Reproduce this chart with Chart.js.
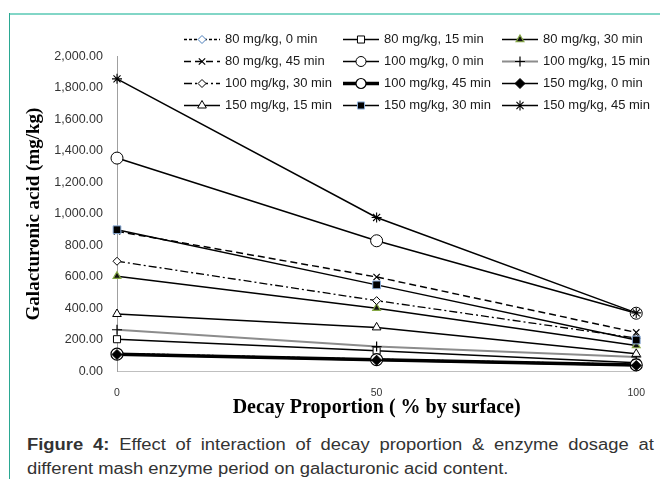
<!DOCTYPE html>
<html><head><meta charset="utf-8">
<script src="https://cdn.jsdelivr.net/npm/chart.js@4/dist/chart.umd.min.js"></script>
<style>
html,body{margin:0;padding:0;background:#fff;width:660px;height:479px;overflow:hidden;}
#wrap{position:absolute;left:0;top:0;width:660px;height:420px;}
#topline{position:absolute;left:9px;top:13px;width:651px;height:2px;background:#82d6c7;}
#leftline{position:absolute;left:9px;top:13px;width:1px;height:466px;background:#2aa892;}
#cap{position:absolute;left:27px;top:433px;width:545px;font-family:'Liberation Sans',Arial,sans-serif;font-size:16px;line-height:24px;color:#333;transform:scaleX(1.15);transform-origin:0 0;white-space:nowrap;}
#cap .l1{text-align:justify;text-align-last:justify;white-space:normal;}
</style></head><body>
<div id="topline"></div><div id="leftline"></div>
<div id="wrap"><canvas id="c" width="660" height="420"></canvas></div>
<div id="cap"><div class="l1"><b>Figure 4:</b> Effect of interaction of decay proportion &amp; enzyme dosage at</div><div>different mash enzyme period on galacturonic acid content.</div></div>
<script>
// ---- data ----
const categories = ['0', '50', '100'];
const seriesNames = [
  '80 mg/kg, 0 min', '80 mg/kg, 15 min', '80 mg/kg, 30 min',
  '80 mg/kg, 45 min', '100 mg/kg, 0 min', '100 mg/kg, 15 min',
  '100 mg/kg, 30 min', '100 mg/kg, 45 min', '150 mg/kg, 0 min',
  '150 mg/kg, 15 min', '150 mg/kg, 30 min', '150 mg/kg, 45 min'
];
const s80_0   = [115, 78, 45];
const s80_15  = [205, 132, 55];
const s80_30  = [605, 402, 165];
const s80_45  = [890, 600, 248];
const s100_0  = [1355, 830, 370];
const s100_15 = [265, 158, 92];
const s100_30 = [700, 450, 212];
const s100_45 = [110, 75, 42];
const s150_0  = [108, 72, 38];
const s150_15 = [365, 280, 112];
const s150_30 = [900, 550, 200];
const s150_45 = [1858, 978, 372];
const seriesValues = [s80_0, s80_15, s80_30, s80_45, s100_0, s100_15, s100_30, s100_45, s150_0, s150_15, s150_30, s150_45];
const yTicks = {min: 0, max: 2000, step: 200};

// ---- styles ----
const styles = [
  {c:'#000', w:1.3, dash:[3,2], ps:'rectRot', r:4, bg:'#fff', bc:'#4a7ebb', bw:1},
  {c:'#000', w:1.5, dash:[], ps:'rect', r:5, bg:'#fff', bc:'#000', bw:1},
  {c:'#000', w:1.5, dash:[], ps:'triangle', r:4.5, bg:'#111', bc:'#86a845', bw:1.2},
  {c:'#000', w:1.5, dash:[7,4], ps:'crossRot', r:4.5, bg:'#000', bc:'#000', bw:1.2},
  {c:'#000', w:1.5, dash:[], ps:'circle', r:6, bg:'#fff', bc:'#000', bw:1},
  {c:'#8c8c8c', w:2, dash:[], ps:'cross', r:5, bg:'#000', bc:'#000', bw:1.2},
  {c:'#000', w:1.3, dash:[8,3,2,3], ps:'rectRot', r:4, bg:'#fff', bc:'#000', bw:1},
  {c:'#000', w:3.5, dash:[], ps:'circle', r:6, bg:'#fff', bc:'#000', bw:1.2},
  {c:'#000', w:1.5, dash:[], ps:'rectRot', r:5, bg:'#000', bc:'#000', bw:1},
  {c:'#000', w:1.5, dash:[], ps:'triangle', r:5, bg:'#fff', bc:'#000', bw:1},
  {c:'#000', w:1.5, dash:[], ps:'rect', r:5.5, bg:'#000', bc:'#8eb0dc', bw:1},
  {c:'#000', w:1.5, dash:[], ps:'star', r:5, bg:'#000', bc:'#000', bw:1.1}
];

const datasets = seriesValues.map((vals, i) => {
  const s = styles[i];
  return {
    label: seriesNames[i], data: vals,
    borderColor: s.c, borderWidth: s.w, borderDash: s.dash,
    pointStyle: s.ps, pointRadius: s.r, pointBackgroundColor: s.bg,
    pointBorderColor: s.bc, pointBorderWidth: s.bw,
    tension: 0, fill: false, clip: false, order: 12 - i
  };
});

const legendPlugin = {
  id: 'gridLegend',
  afterDraw(chart) {
    const ctx = chart.ctx;
    const colX = [184, 343, 502];
    const rowY = [39.5, 61.5, 83.5, 105.5];
    ctx.save();
    seriesNames.forEach((name, i) => {
      const s = styles[i];
      const x0 = colX[i % 3], y = rowY[Math.floor(i / 3)];
      ctx.beginPath();
      ctx.setLineDash(s.dash);
      ctx.strokeStyle = s.c; ctx.lineWidth = s.w;
      ctx.moveTo(x0, y); ctx.lineTo(x0 + 36, y); ctx.stroke();
      ctx.setLineDash([]);
      ctx.fillStyle = s.bg; ctx.strokeStyle = s.bc; ctx.lineWidth = s.bw;
      Chart.helpers.drawPoint(ctx, {pointStyle: s.ps, radius: Math.min(s.r, 5), rotation: 0, borderWidth: s.bw}, x0 + 18, y);
      ctx.fillStyle = '#1a1a1a';
      ctx.font = "13px 'Liberation Sans', Arial, sans-serif";
      ctx.textBaseline = 'middle'; ctx.textAlign = 'left';
      ctx.fillText(name, x0 + 41, y);
    });
    ctx.restore();
  }
};

Chart.defaults.font.family = "'Liberation Sans', Arial, sans-serif";
new Chart(document.getElementById('c'), {
  type: 'line',
  data: {labels: categories, datasets},
  plugins: [legendPlugin],
  options: {
    responsive: false, animation: false, events: [],
    layout: {padding: {top: 56.5, right: 19, bottom: 0, left: 0}},
    plugins: {legend: {display: false}, tooltip: {enabled: false}, title: {display: false}},
    scales: {
      x: {
        type: 'category', offset: false,
        grid: {display: false, drawTicks: false},
        border: {color: '#bfbfbf', width: 1},
        ticks: {padding: 15, font: {size: 10.5}, color: '#333', maxRotation: 0, autoSkip: false},
        title: {display: true, text: 'Decay Proportion ( % by surface)', color: '#000',
          font: {family: "'Liberation Serif', 'Times New Roman', serif", size: 20, weight: 'bold'},
          padding: {top: 0, bottom: 0}},
        afterFit(s) { s.height = 48.5; }
      },
      y: {
        min: yTicks.min, max: yTicks.max,
        grid: {display: false, drawTicks: false},
        border: {color: '#a0a0a0', width: 1},
        ticks: {stepSize: yTicks.step, padding: 14, font: {size: 12.5}, color: '#333',
          callback: v => Number(v).toLocaleString('en-US', {minimumFractionDigits: 2, maximumFractionDigits: 2})},
        title: {display: true, text: 'Galacturonic acid (mg/kg)', color: '#000',
          font: {family: "'Liberation Serif', 'Times New Roman', serif", size: 19, weight: 'bold'},
          padding: {top: 23, bottom: 0}},
        afterFit(s) { s.width = 117; }
      }
    }
  }
});
</script>
</body></html>
